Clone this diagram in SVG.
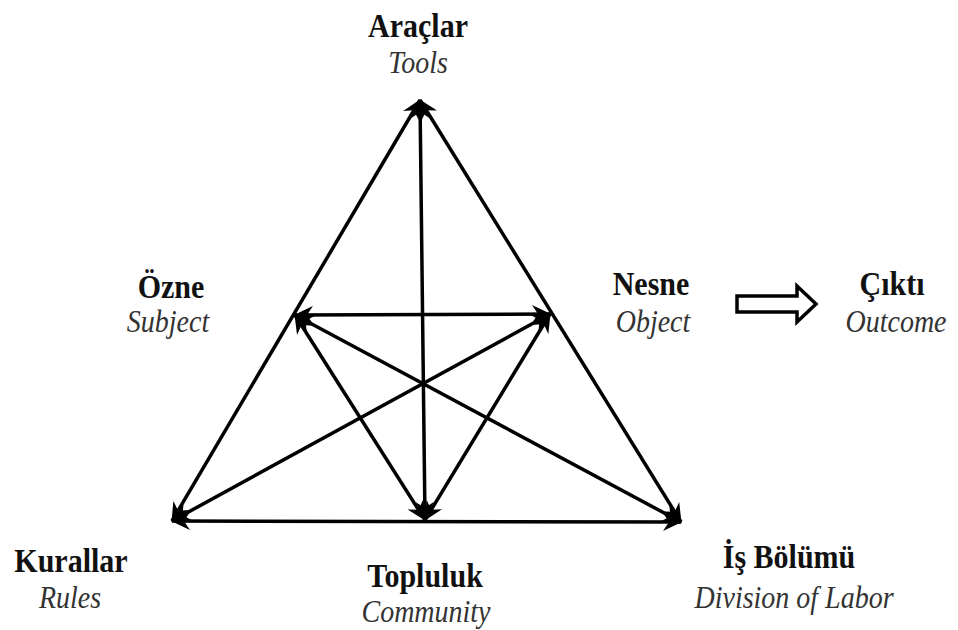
<svg xmlns="http://www.w3.org/2000/svg" width="958" height="630" viewBox="0 0 958 630">
<defs>
<marker id="ah" viewBox="0 0 20 18" refX="18" refY="9" markerWidth="20" markerHeight="18" markerUnits="userSpaceOnUse" orient="auto-start-reverse">
<path d="M0,0 L19,9 L0,18 L6,9 z" fill="#000"/>
</marker>
<style>
.ln{stroke:#000;stroke-width:3.5;fill:none;marker-start:url(#ah);marker-end:url(#ah);stroke-linecap:butt}
.tr{font-family:"Liberation Serif","Times New Roman",serif;font-weight:bold;font-size:30px;fill:#111;text-anchor:middle}
.en{font-family:"Liberation Serif","Times New Roman",serif;font-style:italic;font-size:28px;fill:#333;text-anchor:middle}
</style>
</defs>
<rect width="958" height="630" fill="#fff"/>
<g id="connectors">
<line class="ln" x1="172" y1="521" x2="420" y2="100"/>
<line class="ln" x1="681" y1="522" x2="420" y2="100"/>
<line class="ln" x1="172" y1="521" x2="681" y2="522"/>
<line class="ln" x1="420" y1="100" x2="425" y2="520"/>
<line class="ln" x1="295" y1="315" x2="550" y2="314"/>
<line class="ln" x1="295" y1="315" x2="425" y2="520"/>
<line class="ln" x1="550" y1="314" x2="425" y2="520"/>
<line class="ln" x1="295" y1="315" x2="681" y2="522"/>
<line class="ln" x1="550" y1="314" x2="172" y2="521"/>
<polygon points="737,296 797,296 797,286 816,304 797,322 797,312 737,312" fill="#fff" stroke="#000" stroke-width="3.5" stroke-linejoin="miter"/>
</g>
<g id="tools"><text class="tr" transform="translate(418,37) scale(1,1.13)">Araçlar</text><text class="en" transform="translate(418,73) scale(1,1.13)">Tools</text></g>
<g id="subject"><text class="tr" transform="translate(171,298) scale(1,1.13)">Özne</text><text class="en" transform="translate(168,332) scale(1,1.13)">Subject</text></g>
<g id="object"><text class="tr" transform="translate(651,295) scale(1,1.13)">Nesne</text><text class="en" transform="translate(653,332) scale(1,1.13)">Object</text></g>
<g id="outcome"><text class="tr" transform="translate(892,295) scale(1,1.13)">Çıktı</text><text class="en" transform="translate(896,332) scale(1,1.13)">Outcome</text></g>
<g id="rules"><text class="tr" transform="translate(71,572) scale(1,1.13)">Kurallar</text><text class="en" transform="translate(70,608) scale(1,1.13)">Rules</text></g>
<g id="community"><text class="tr" transform="translate(425,587) scale(1,1.13)">Topluluk</text><text class="en" transform="translate(426,622) scale(1,1.13)">Community</text></g>
<g id="division"><text class="tr" transform="translate(789,568) scale(1,1.13)">İş Bölümü</text><text class="en" transform="translate(794,608) scale(1,1.13)">Division of Labor</text></g>
</svg>
